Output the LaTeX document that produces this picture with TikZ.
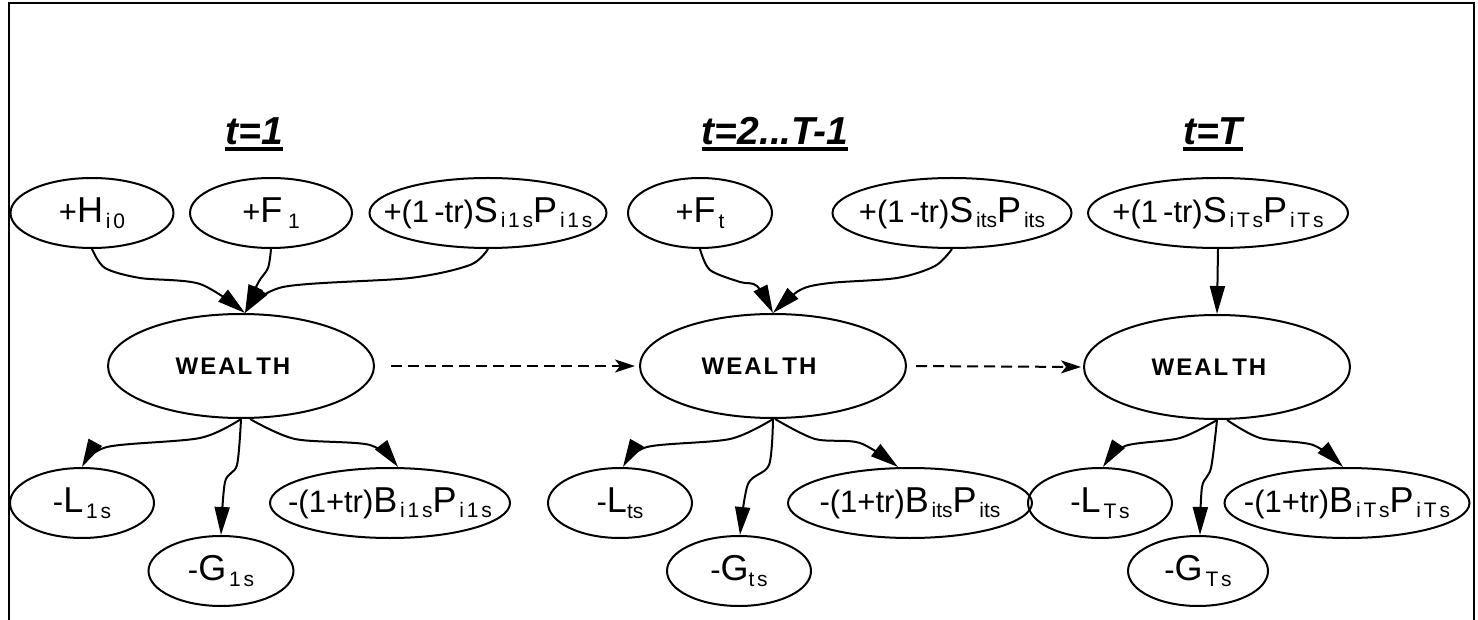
\documentclass[tikz,border=0pt]{standalone}
\usepackage{fontspec}
\setmainfont{Liberation Sans}
\usetikzlibrary{shapes.geometric,arrows.meta}
\newcommand{\Lg}[1]{{\fontsize{18}{18}\selectfont #1}}
\newcommand{\Sb}[1]{\raisebox{-2.8pt}{\fontsize{10.5}{10.5}\selectfont #1}}
\newcommand{\sk}{\kern1.4pt}
\newcommand{\ttl}[1]{\setbox0\hbox{#1}\rlap{\rule[-3.2pt]{\wd0}{2pt}}\box0}
\newcommand{\wtxt}{{\fontsize{12}{12}\selectfont\bfseries W\kern1pt E\kern1pt A\kern1pt L\kern2pt T\kern1pt H}}
\tikzset{
  ell/.style={ellipse, draw, line width=1pt, inner sep=0pt, font=\fontsize{15.5}{15.5}\selectfont},
  smallell/.style={ell, minimum height=35pt},
  wealth/.style={ell, minimum width=133pt, minimum height=52pt},
  arr/.style={line width=1pt, -{Triangle[length=14pt,width=7.5pt]}},
  darr/.style={line width=1pt, dash pattern=on 5.5pt off 3pt, -{Stealth[length=10pt,width=6.5pt,inset=2.5pt]}},
  title/.style={inner sep=0pt, anchor=base, font=\fontsize{19.5}{20}\selectfont\bfseries\itshape}
}
\begin{document}
\begin{tikzpicture}[x=0.5pt, y=-0.5pt]
\useasboundingbox (0,0) rectangle (1478,620);
% frame
\draw[line width=1.3pt] (9,660) -- (9,3) -- (1474,3) -- (1474,660);
% titles
\node[title] (T1) at (254,145) {\ttl{t=1}};
\node[title] (T2) at (775,145) {\ttl{t=2...T-1}};
\node[title] (T3) at (1213,145) {\ttl{t=T}};
% top row
\node[smallell, minimum width=81.5pt] (H) at (92,213) {\makebox[0pt]{+\Lg{H}\Sb{\sk i\sk 0}}};
\node[smallell, minimum width=81pt] (F1) at (271,213) {\makebox[0pt]{+\Lg{F}\Sb{\sk\sk 1}}};
\node[smallell, minimum width=118.5pt] (S1) at (488,213) {\makebox[0pt]{+(1\,-tr)\Lg{S}\Sb{\sk i\sk 1\sk s}\Lg{P}\Sb{\sk i\sk 1\sk s}}};
\node[smallell, minimum width=72pt] (Ft) at (700,213) {\makebox[0pt]{+\Lg{F}\Sb{\sk t}}};
\node[smallell, minimum width=119.5pt] (St) at (952,213) {\makebox[0pt]{+(1\,-tr)\Lg{S}\Sb{\sk its}\Lg{P}\Sb{\sk its}}};
\node[smallell, minimum width=130pt] (ST) at (1218,213) {\makebox[0pt]{+(1\,-tr)\Lg{S}\Sb{\sk i\sk T\sk s}\Lg{P}\Sb{\sk i\sk T\sk s}}};
% wealth
\node[wealth] (W1) at (241,366) {\makebox[0pt]{\kern-8pt\wtxt}};
\node[wealth] (W2) at (773,366) {\makebox[0pt]{\kern-14pt\wtxt}};
\node[wealth] (W3) at (1217,367) {\makebox[0pt]{\kern-8pt\wtxt}};
% bottom row
\node[smallell, minimum width=72pt] (L1) at (82,503) {\makebox[0pt]{-\Lg{L}\Sb{\sk 1\sk s}}};
\node[smallell, minimum width=72.5pt] (G1) at (221,571) {\makebox[0pt]{-\Lg{G}\Sb{\sk 1\sk s}}};
\node[smallell, minimum width=120pt] (B1) at (390,503) {\makebox[0pt]{-(1+tr)\Lg{B}\Sb{\sk i\sk 1\sk s}\Lg{P}\Sb{\sk i\sk 1\sk s}}};
\node[smallell, minimum width=72pt] (Lt) at (620,503) {\makebox[0pt]{-\Lg{L}\Sb{ts}}};
\node[smallell, minimum width=72pt] (Gt) at (739,571) {\makebox[0pt]{-\Lg{G}\Sb{t\sk s}}};
\node[smallell, minimum width=122pt] (Bt) at (910,503) {\makebox[0pt]{-(1+tr)\Lg{B}\Sb{\sk its}\Lg{P}\Sb{\sk its}}};
\node[smallell, minimum width=72pt] (LT) at (1100,503) {\makebox[0pt]{-\Lg{L}\Sb{\sk T\sk s}}};
\node[smallell, minimum width=70pt] (GT) at (1198,571) {\makebox[0pt]{-\Lg{G}\Sb{\sk T\sk s}}};
\node[smallell, minimum width=122.5pt] (BT) at (1347,503) {\makebox[0pt]{-(1+tr)\Lg{B}\Sb{\sk i\sk T\sk s}\Lg{P}\Sb{\sk i\sk T\sk s}}};
% inputs to W1
\draw[arr] plot[smooth, tension=0.5] coordinates {(H.south) (105,268) (140,278) (200,284) ([xshift=2pt]W1.north)};
\draw[arr] plot[smooth, tension=0.5] coordinates {(F1.south) (268,268) (258,283) ([xshift=2pt]W1.north)};
\draw[arr] plot[smooth, tension=0.5] coordinates {(S1.south) (470,265) (410,278) (283,287) ([xshift=2pt]W1.north)};
% inputs to W2
\draw[arr] plot[smooth, tension=0.5] coordinates {(Ft.south) (710,270) (740,282) (757,286) (W2.north)};
\draw[arr] plot[smooth, tension=0.5] coordinates {(St.south) (935,266) (897,278) (830,283) (800,290) (W2.north)};
% input to W3
\draw[arr] (ST.south) -- (W3.north);
% dashed transitions
\draw[darr, shorten <=8pt, shorten >=2pt] (W1.east) -- (W2.west);
\draw[darr, shorten <=4.5pt, shorten >=1pt] (W2.east) -- (W3.west);
% outputs W1
\draw[arr] plot[smooth, tension=0.5] coordinates {(W1.south) (200,438) (107,447) (L1.north)};
\draw[arr] plot[smooth, tension=0.5] coordinates {(W1.south) (237,465) (225,482) (G1.north)};
\draw[arr] plot[smooth, tension=0.5] coordinates {([xshift=4.5pt]W1.south) (295,439) (370,445) ([xshift=4pt]B1.north)};
% outputs W2
\draw[arr] plot[smooth, tension=0.5] coordinates {(W2.south) (730,439) (647,447) ([xshift=1.5pt]Lt.north)};
\draw[arr] plot[smooth, tension=0.5] coordinates {(W2.south) (769,465) (748,484) ([xshift=0.5pt]Gt.north)};
\draw[arr] plot[smooth, tension=0.5] coordinates {([xshift=1pt]W2.south) (815,439) (860,443) ([xshift=-6pt]Bt.north)};
% outputs W3
\draw[arr] plot[smooth, tension=0.5] coordinates {(W3.south) (1180,438) (1125,446) ([xshift=1.5pt]LT.north)};
\draw[arr] plot[smooth, tension=0.5] coordinates {(W3.south) (1211,468) (1202,487) ([xshift=1pt]GT.north)};
\draw[arr] plot[smooth, tension=0.5] coordinates {([xshift=5pt]W3.south) (1260,438) (1313,445) ([xshift=-2pt]BT.north)};
\end{tikzpicture}
\end{document}
